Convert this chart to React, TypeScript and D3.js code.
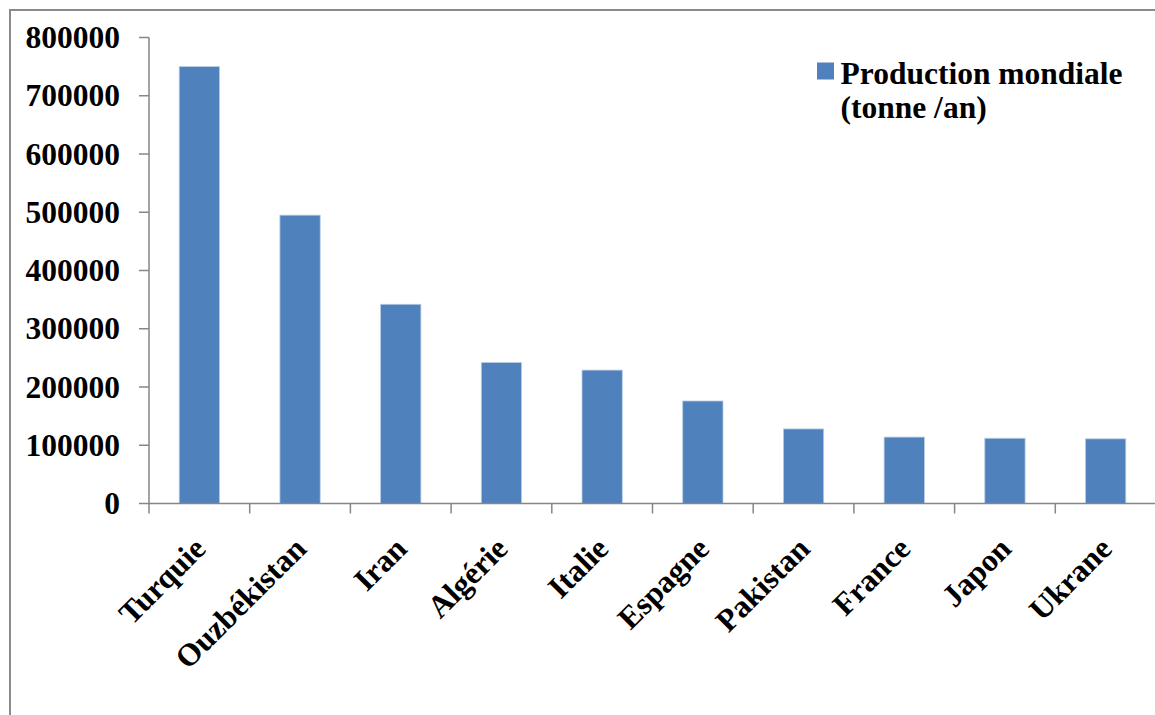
import React from "react";
import * as d3 from "d3";

// Production mondiale par pays (tonne / an)
const countries = [
  "Turquie",
  "Ouzbékistan",
  "Iran",
  "Algérie",
  "Italie",
  "Espagne",
  "Pakistan",
  "France",
  "Japon",
  "Ukrane",
];
const production = [750000, 495000, 342000, 242000, 229000, 176000, 128000, 114000, 112000, 111000];
const yTicks = [0, 100000, 200000, 300000, 400000, 500000, 600000, 700000, 800000];
const legendLines = ["Production mondiale", "(tonne /an)"];

const W = 1155;
const H = 715;
const plot = { left: 149, right: 1156, top: 37.5, bottom: 503.5 };
const FONT = "'Liberation Serif', 'Times New Roman', serif";
const BAR = "#4F81BD";
const AXIS = "#868686";

export default function App() {
  const x = d3
    .scaleBand<string>()
    .domain(countries)
    .range([plot.left, plot.right])
    .paddingInner(0.6)
    .paddingOuter(0.3);
  const y = d3.scaleLinear().domain([0, 800000]).range([plot.bottom, plot.top]);
  const step = x.step();
  const boundaries = d3.range(countries.length + 1).map((i) => plot.left + i * step);

  return (
    <svg
      width={W}
      height={H}
      style={{ position: "absolute", left: 0, top: 0, background: "#fff" }}
      fontFamily={FONT}
      fontWeight="bold"
    >
      <rect x={0} y={0} width={W} height={H} fill="#fff" />
      {/* chart frame */}
      <rect x={10} y={10} width={W + 20} height={H + 20} fill="none" stroke="#8a8a8a" strokeWidth={2} />

      {/* bars */}
      {countries.map((c, i) => (
        <rect
          key={c}
          x={x(c)}
          y={y(production[i])}
          width={x.bandwidth()}
          height={y(0) - y(production[i])}
          fill={BAR}
          stroke="#b8cce4"
          strokeWidth={0.8}
        />
      ))}

      {/* y axis */}
      <line x1={plot.left} x2={plot.left} y1={plot.top} y2={plot.bottom} stroke={AXIS} strokeWidth={1.5} />
      {yTicks.map((t) => (
        <g key={t}>
          <line x1={plot.left - 10} x2={plot.left} y1={y(t)} y2={y(t)} stroke={AXIS} strokeWidth={1.5} />
          <text
            x={plot.left - 29}
            y={y(t)}
            textAnchor="end"
            dominantBaseline="central"
            fontSize={31.5}
            fill="#000"
          >
            {t}
          </text>
        </g>
      ))}

      {/* x axis */}
      <line x1={plot.left} x2={plot.right} y1={plot.bottom} y2={plot.bottom} stroke={AXIS} strokeWidth={1.5} />
      {boundaries.map((bx, i) => (
        <line key={i} x1={bx} x2={bx} y1={plot.bottom} y2={plot.bottom + 10} stroke={AXIS} strokeWidth={1.5} />
      ))}
      {countries.map((c) => {
        const cx = (x(c) ?? 0) + x.bandwidth() / 2;
        return (
          <text
            key={c}
            transform={`translate(${cx + 8},${plot.bottom + 47}) rotate(-45)`}
            textAnchor="end"
            fontSize={31.5}
            fill="#000"
          >
            {c}
          </text>
        );
      })}

      {/* legend */}
      <rect x={817} y={62.5} width={17} height={17} fill={BAR} />
      {legendLines.map((line, i) => (
        <text key={i} x={840.5} y={83.5 + i * 34} fontSize={31.5} fill="#000">
          {line}
        </text>
      ))}
    </svg>
  );
}
